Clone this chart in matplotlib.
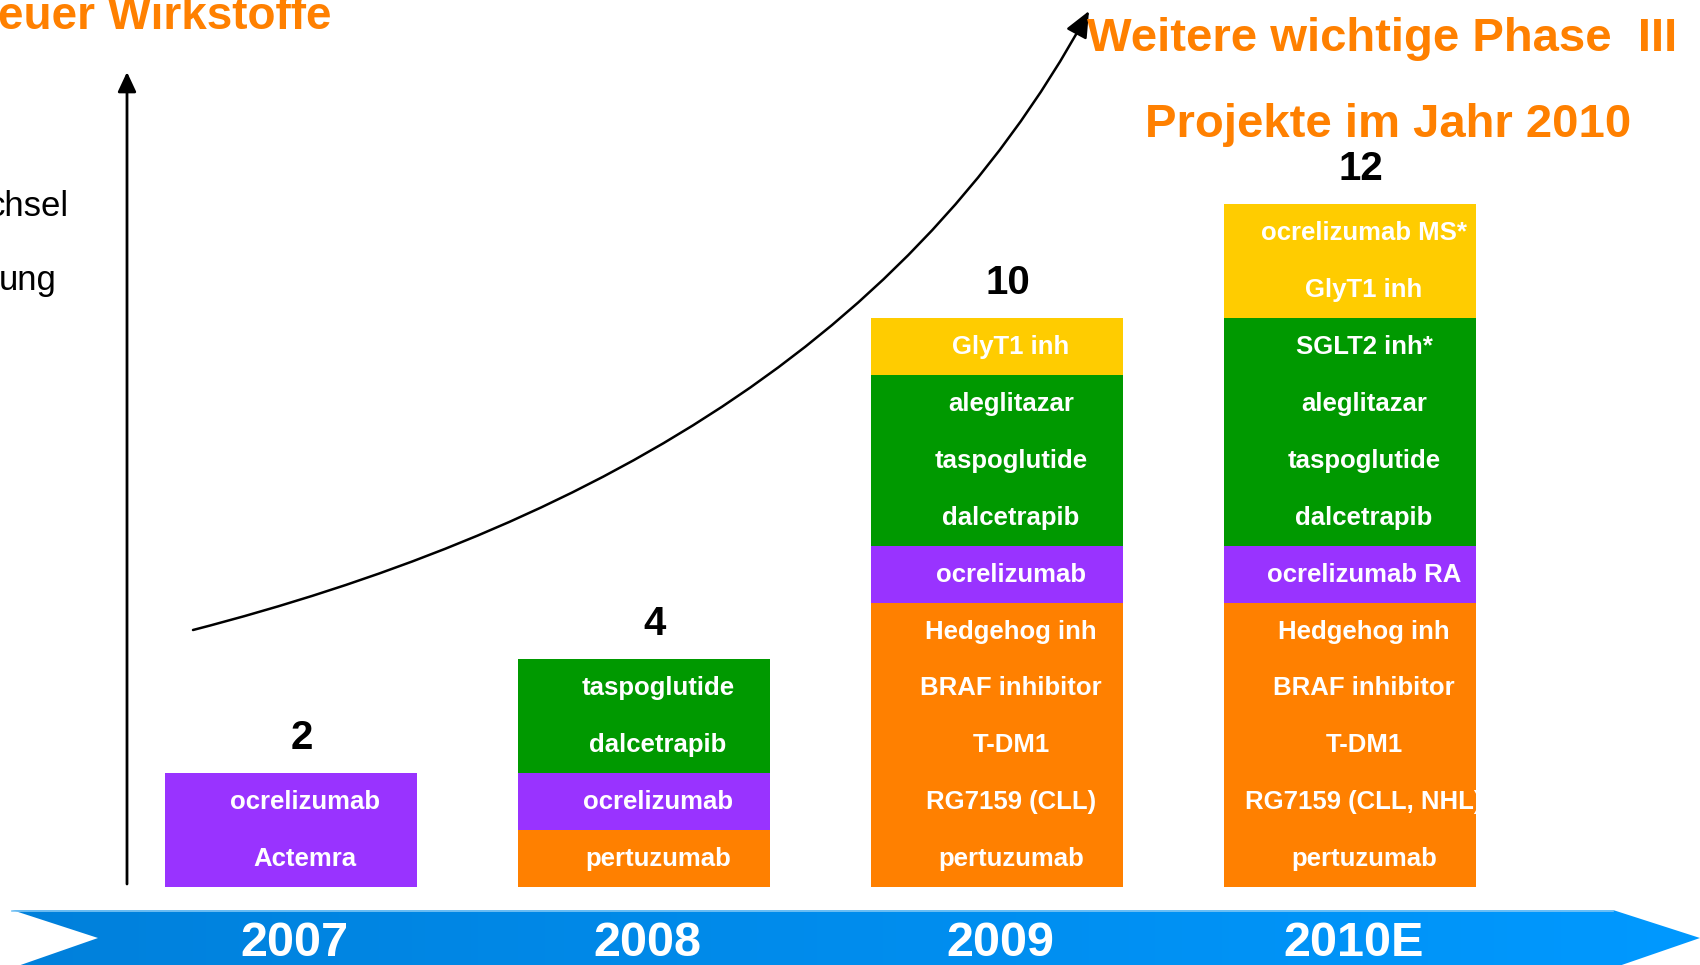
import matplotlib.pyplot as plt
import matplotlib.patches as patches
from matplotlib.path import Path
from matplotlib.colors import LinearSegmentedColormap
import numpy as np

# Data: one stack per year, segments listed bottom to top
years = ['2007', '2008', '2009', '2010E']
totals = [2, 4, 10, 12]

stacks = [
    [('purple', ['Actemra', 'ocrelizumab'])],
    [('orange', ['pertuzumab']),
     ('purple', ['ocrelizumab']),
     ('green', ['dalcetrapib', 'taspoglutide'])],
    [('orange', ['pertuzumab', 'RG7159 (CLL)', 'T-DM1', 'BRAF inhibitor', 'Hedgehog inh']),
     ('purple', ['ocrelizumab']),
     ('green', ['dalcetrapib', 'taspoglutide', 'aleglitazar']),
     ('yellow', ['GlyT1 inh'])],
    [('orange', ['pertuzumab', 'RG7159 (CLL, NHL)', 'T-DM1', 'BRAF inhibitor', 'Hedgehog inh']),
     ('purple', ['ocrelizumab RA']),
     ('green', ['dalcetrapib', 'taspoglutide', 'aleglitazar', 'SGLT2 inh*']),
     ('yellow', ['GlyT1 inh', 'ocrelizumab MS*'])],
]

colors = {'purple': '#9933FF', 'orange': '#FF8000',
          'green': '#009900', 'yellow': '#FFCC00'}
title_color = '#FF8000'

plt.rcParams['font.family'] = ['Liberation Sans', 'DejaVu Sans']

W, H = 1700, 965
fig = plt.figure(figsize=(W / 100, H / 100), dpi=100)
fig.patch.set_facecolor('white')

# overlay axes in pixel coordinates for decorations
ax0 = fig.add_axes([0, 0, 1, 1])
ax0.set_xlim(0, W)
ax0.set_ylim(H, 0)
ax0.axis('off')

# blue timeline banner with gradient
grad = np.linspace(0, 1, 256).reshape(1, -1)
cmap = LinearSegmentedColormap.from_list('band', ['#0080DB', '#0099FF'])
im = ax0.imshow(grad, extent=(0, W, 968, 910), cmap=cmap, aspect='auto', zorder=1)
band = patches.Polygon([(12, 910), (1613, 910), (1700, 938), (1613, 968),
                        (12, 968), (98, 938)], closed=True,
                       facecolor='none', edgecolor='none')
ax0.add_patch(band)
im.set_clip_path(band)
ax0.plot([12, 1613], [910.5, 910.5], color='#7FC6F5', lw=1.2, zorder=2)
ax0.set_xlim(0, W)
ax0.set_ylim(H, 0)

# vertical arrow
ax0.annotate('', xy=(127, 72), xytext=(127, 884),
             arrowprops=dict(arrowstyle='-|>,head_length=0.6,head_width=0.28',
                             lw=2, color='black', mutation_scale=20,
                             shrinkA=0, shrinkB=0))

# growth curve
curve = Path([(193, 630), (560, 535), (900, 360), (1089, 11)],
             [Path.MOVETO, Path.CURVE4, Path.CURVE4, Path.CURVE4])
arrow = patches.FancyArrowPatch(path=curve,
                                arrowstyle='-|>,head_length=0.8,head_width=0.35',
                                mutation_scale=20, lw=1.8, color='black',
                                shrinkA=0, shrinkB=0)
ax0.add_patch(arrow)

# titles and cut-off side texts
ax0.text(332, 29, 'euer Wirkstoffe', color=title_color, fontsize=33,
         fontweight='bold', ha='right', va='baseline')
ax0.text(1087, 51, 'Weitere wichtige Phase  III', color=title_color, fontsize=34,
         fontweight='bold', ha='left', va='baseline')
ax0.text(1388, 137, 'Projekte im Jahr 2010', color=title_color, fontsize=34,
         fontweight='bold', ha='center', va='baseline')
ax0.text(69, 216, 'chsel', color='black', fontsize=25, ha='right', va='baseline')
ax0.text(57, 290, 'ung', color='black', fontsize=25, ha='right', va='baseline')

# bar axes: x = year index, y = number of projects
base_px, unit_px = 887, 56.9
x0_px, step_px = 291, 353
ax = fig.add_axes([0, (H - base_px) / H, 1, base_px / H])
ax.set_xlim(-x0_px / step_px, (W - x0_px) / step_px)
ax.set_ylim(0, base_px / unit_px)
ax.patch.set_alpha(0)
ax.axis('off')

bar_w = 0.716
for i, stack in enumerate(stacks):
    bottom = 0
    for cname, labels in stack:
        n = len(labels)
        rect = ax.bar(i, n, bottom=bottom, width=bar_w, color=colors[cname],
                      edgecolor='none', zorder=2)[0]
        for k, lab in enumerate(labels):
            t = ax.text(i + 0.04, bottom + k + 0.49, lab, color='white',
                        fontsize=18.5, fontweight='bold', ha='center',
                        va='center', zorder=3, clip_on=True)
            t.set_clip_path(rect)
        bottom += n
    ax.text(i + 0.03, totals[i] + 0.62, str(totals[i]), color='black',
            fontsize=29, fontweight='bold', ha='center', va='center')

# year labels on the banner
for i, yr in enumerate(years):
    ax.text(i + 0.01, -(944 - base_px) / unit_px, yr, color='white', fontsize=35,
            fontweight='bold', ha='center', va='center', clip_on=False, zorder=5)

fig.savefig('out.png', dpi=100, facecolor='white')
